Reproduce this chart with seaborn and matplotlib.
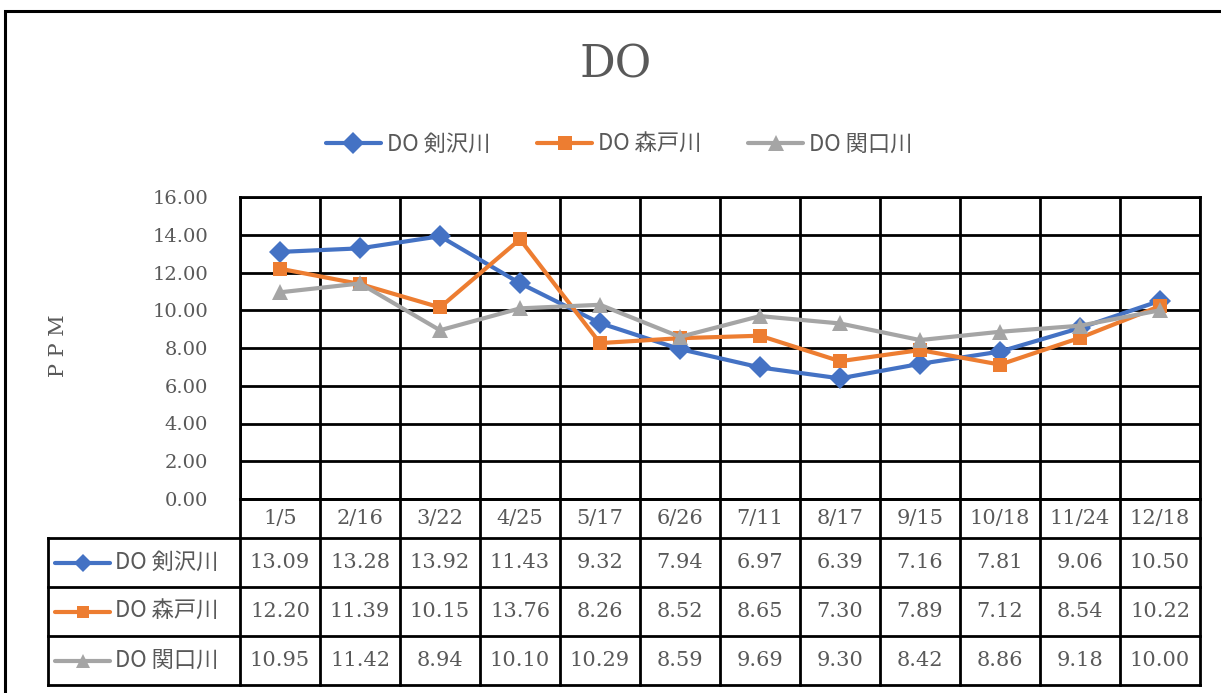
import matplotlib
matplotlib.use("Agg")
import matplotlib.pyplot as plt
import matplotlib.patches as mpatches
from matplotlib.lines import Line2D
from matplotlib.font_manager import FontProperties
import seaborn as sns
import numpy as np

dates = ['1/5', '2/16', '3/22', '4/25', '5/17', '6/26', '7/11', '8/17', '9/15', '10/18', '11/24', '12/18']
kenzawa = [13.09, 13.28, 13.92, 11.43, 9.32, 7.94, 6.97, 6.39, 7.16, 7.81, 9.06, 10.50]
morito = [12.20, 11.39, 10.15, 13.76, 8.26, 8.52, 8.65, 7.30, 7.89, 7.12, 8.54, 10.22]
sekiguchi = [10.95, 11.42, 8.94, 10.10, 10.29, 8.59, 9.69, 9.30, 8.42, 8.86, 9.18, 10.00]
names = ['DO 剣沢川', 'DO 森戸川', 'DO 関口川']
yticks = [0, 2, 4, 6, 8, 10, 12, 14, 16]

series = [kenzawa, morito, sekiguchi]
colors = ['#4472C4', '#ED7D31', '#A5A5A5']
markers = ['D', 's', '^']
msizes = [11, 10.5, 11.5]

W, H = 1221, 693
GREY = '#595959'
JP = ['Noto Sans CJK JP', 'DejaVu Sans']

sns.set_theme(style='white')
plt.rcParams['font.family'] = ['DejaVu Serif']


def box(l, t, r, b):
    # pixel box -> figure fraction
    return [l / W, 1 - b / H, (r - l) / W, (b - t) / H]


fig = plt.figure(figsize=(W / 100, H / 100), dpi=100)

# outer chart frame
fig.patches.append(mpatches.Rectangle((4.5 / W, -0.1), 2, 1.1 - 11 / H, transform=fig.transFigure,
                                      fill=False, edgecolor='black', lw=2.2, clip_on=False))

# main line chart
ax = fig.add_axes(box(240, 197, 1200, 499))
x = np.arange(len(dates))
for name, vals, c, m, ms in zip(names, series, colors, markers, msizes):
    sns.lineplot(x=x, y=vals, ax=ax, color=c, marker=m, markersize=ms, markeredgewidth=0,
                 linewidth=3, label=name, sort=False, zorder=3)

ax.set_xlim(-0.5, len(dates) - 0.5)
ax.set_ylim(0, 16)
ax.set_xticks(np.arange(-0.5, len(dates), 1))
ax.set_xticklabels([])
ax.set_yticks(yticks)
ax.set_yticklabels([f'{v:.2f}' for v in yticks], color=GREY, fontsize=14)
ax.tick_params(length=0, axis='y', pad=23)
ax.tick_params(length=0, axis='x')
ax.grid(True, color='black', lw=2)
for s in ax.spines.values():
    s.set_color('black')
    s.set_linewidth(2)

handles, labels = ax.get_legend_handles_labels()
ax.get_legend().remove()
fig.legend(handles, labels, loc='center', bbox_to_anchor=(619 / W, 1 - 144 / H), ncol=3,
           frameon=False, prop=FontProperties(family=JP, size=16), labelcolor=GREY,
           handlelength=2.5, handletextpad=0.25, columnspacing=2.1)

fig.text(616 / W, 1 - 65 / H, 'DO', fontsize=32, color=GREY, ha='center', va='center')
fig.text(58 / W, 1 - 346 / H, 'P P M', fontsize=15, color=GREY, rotation=90, ha='center', va='center')

# data table below the chart
tax = fig.add_axes(box(48, 499, 1200, 685))
left = -0.5 - 192 / 80
tax.set_xlim(left, len(dates) - 0.5)
tax.set_ylim(186, 0)
tax.axis('off')
rows = [0, 39, 88, 137, 186]
kw = dict(color='black', lw=2, clip_on=False, solid_capstyle='projecting')
tax.plot([-0.5, len(dates) - 0.5], [0, 0], **kw)
for r in rows[1:]:
    tax.plot([left, len(dates) - 0.5], [r, r], **kw)
for k in range(len(dates) + 1):
    tax.plot([k - 0.5, k - 0.5], [0, 186], **kw)
tax.plot([left, left], [39, 186], **kw)

for i, d in enumerate(dates):
    tax.text(i, (rows[0] + rows[1]) / 2, d, ha='center', va='center', fontsize=15, color=GREY)

key_l = left + 7 / 80
key_r = left + 62 / 80
key_ms = [9.5, 9, 10]
for j, (name, vals, c, m, ms) in enumerate(zip(names, series, colors, markers, key_ms)):
    yc = (rows[j + 1] + rows[j + 2]) / 2
    tax.add_line(Line2D([key_l, key_r], [yc, yc], color=c, lw=3, clip_on=False))
    tax.add_line(Line2D([(key_l + key_r) / 2], [yc], color=c, marker=m, markersize=ms,
                        markeredgewidth=0, clip_on=False))
    tax.text(left + 67 / 80, yc, name, ha='left', va='center', fontsize=16, color=GREY, family=JP)
    for i, v in enumerate(vals):
        tax.text(i, yc, f'{v:.2f}', ha='center', va='center', fontsize=15, color=GREY)

fig.savefig('out.png', dpi=100, facecolor='white')
plt.close(fig)
